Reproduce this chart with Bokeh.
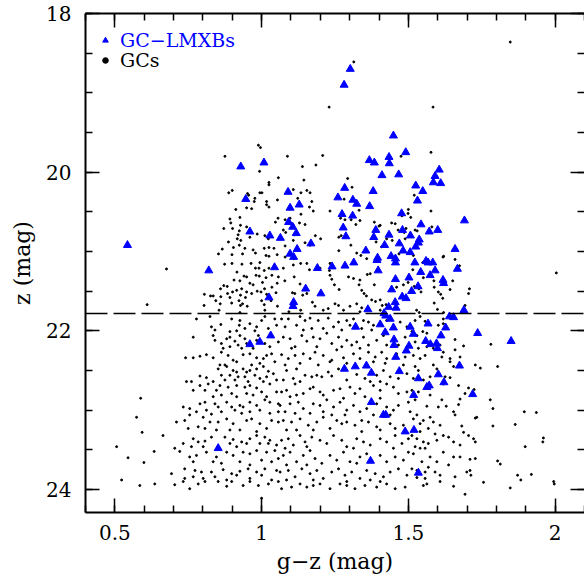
from bokeh.plotting import figure
from bokeh.models import Range1d, FixedTicker, LinearAxis, Span, Legend, LegendItem
from bokeh.embed import file_html
from bokeh.resources import INLINE

# ---------------- data ----------------
gc_x = [
 0.778,0.824,0.861,0.898,0.926,0.924,0.96,0.983,1.0,1.011,1.045,1.051,1.023,0.829,0.841,0.892,0.943,0.977,0.915,
 0.767,0.835,0.841,0.881,0.863,0.892,0.909,0.926,0.943,0.949,0.932,0.892,0.869,0.983,0.989,1.011,1.028,1.057,0.971,0.92,
 0.741,0.767,0.79,0.812,0.835,0.863,0.886,0.915,0.903,0.937,0.96,0.983,1.006,1.017,1.034,0.858,0.875,0.966,0.994,1.045,
 0.852,0.881,0.915,0.903,0.937,0.949,0.96,0.983,1.006,1.023,0.863,0.892,0.92,0.943,0.977,0.994,1.017,1.04,0.79,0.812,0.835,0.875,0.909,0.954,1.006,1.051,
 0.744,0.761,0.79,0.818,0.858,0.886,0.915,0.943,0.96,0.983,1.028,0.767,0.807,0.846,0.863,0.898,0.915,0.949,0.971,1.0,1.017,1.051,0.835,
 0.79,0.807,0.841,0.852,0.881,0.898,0.926,0.937,0.96,0.983,1.011,1.028,1.057,0.733,0.755,0.778,0.812,0.829,0.863,0.909,0.932,0.96,0.994,1.028,1.057,
 0.71,0.738,0.755,0.784,0.801,0.824,0.852,0.881,0.903,0.926,0.949,0.966,0.994,1.017,1.034,1.057,0.75,0.807,0.846,0.892,0.983,
 0.664,0.733,0.767,0.784,0.807,0.829,0.875,0.903,0.932,0.96,0.983,1.011,1.028,1.051,0.704,0.721,0.761,0.801,0.892,0.915,0.949,0.994,1.023,
 0.634,0.755,0.778,0.812,0.846,0.881,0.903,0.937,0.96,0.983,1.017,1.045,0.767,0.835,0.863,0.926,0.96,1.0,1.034,1.057,
 0.693,0.738,0.773,0.795,0.829,0.869,0.898,0.926,0.954,0.983,1.011,1.051,0.738,0.767,0.801,0.841,0.881,0.915,0.96,1.0,1.034,
 0.636,0.704,0.733,0.755,0.784,0.807,0.852,0.881,0.898,0.937,0.96,0.989,1.023,1.057,1.0,
 1.068,1.091,1.131,1.148,1.165,1.193,1.227,1.262,1.29,1.313,1.347,1.364,1.381,1.08,1.119,1.142,1.171,1.21,1.245,1.273,1.301,1.341,1.375,1.426,1.472,1.495,
 1.074,1.097,1.114,1.137,1.154,1.176,1.199,1.222,1.239,1.262,1.29,1.307,1.324,1.347,1.364,1.392,1.415,1.426,1.466,1.489,1.102,1.188,1.273,1.335,
 1.068,1.091,1.114,1.142,1.165,1.182,1.21,1.233,1.256,1.279,1.313,1.335,1.364,1.387,1.409,1.426,1.46,1.489,1.08,1.131,1.193,1.239,1.29,1.381,1.421,1.483,
 1.085,1.119,1.148,1.171,1.188,1.205,1.227,1.239,1.262,1.324,1.352,1.392,1.415,1.438,1.466,1.495,1.074,1.108,1.131,1.29,1.37,1.404,
 1.068,1.085,1.114,1.119,1.165,1.176,1.199,1.21,1.245,1.267,1.301,1.318,1.335,1.352,1.381,1.404,1.426,1.449,1.466,1.495,1.097,1.142,1.279,1.404,
 1.063,1.097,1.125,1.142,1.176,1.199,1.222,1.245,1.267,1.29,1.313,1.335,1.358,1.392,1.426,1.449,1.466,1.5,1.08,1.114,1.165,1.21,1.239,1.284,1.381,1.438,
 1.074,1.102,1.131,1.159,1.188,1.21,1.233,1.256,1.273,1.29,1.318,1.341,1.364,1.392,1.438,1.455,1.483,1.085,1.119,1.176,1.341,1.404,
 1.068,1.091,1.108,1.131,1.148,1.171,1.199,1.222,1.245,1.273,1.29,1.324,1.347,1.37,1.404,1.426,1.455,1.478,1.5,1.08,1.154,1.313,1.449,
 1.074,1.097,1.119,1.142,1.165,1.182,1.205,1.233,1.256,1.279,1.301,1.335,1.358,1.404,1.426,1.455,1.483,1.5,1.085,1.154,1.324,
 1.063,1.091,1.114,1.137,1.165,1.188,1.21,1.239,1.262,1.284,1.307,1.335,1.358,1.387,1.415,1.438,1.466,1.495,1.085,1.176,1.29,1.404,
 1.068,1.102,1.131,1.154,1.176,1.199,1.233,1.267,1.29,1.318,1.352,1.37,1.392,1.426,1.455,1.489,
 1.523,1.54,1.557,1.619,1.659,1.619,1.602,1.512,1.529,1.549,1.563,1.523,1.534,1.563,1.585,1.608,1.619,1.642,1.659,1.688,
 1.517,1.54,1.557,1.585,1.614,1.642,1.676,1.654,1.728,1.745,1.804,1.781,1.534,1.523,1.574,1.597,1.625,1.642,1.517,1.551,
 1.619,1.671,1.705,1.724,1.693,1.512,1.534,1.574,1.614,1.602,1.629,1.676,1.671,1.779,1.788,1.523,1.563,1.506,1.529,1.551,
 1.574,1.585,1.654,1.659,1.728,1.733,1.517,1.54,1.608,1.682,1.688,1.705,1.722,1.728,1.788,1.864,1.895,1.936,1.54,1.568,
 1.591,1.619,1.637,1.654,1.676,1.512,1.529,1.551,1.568,1.597,1.523,1.54,1.557,1.517,1.574,1.619,1.654,1.676,1.71,1.728,
 1.804,1.813,1.898,1.546,1.597,1.637,1.699,1.71,1.568,1.512,1.529,1.557,1.591,1.557,1.529,1.608,1.659,1.713,1.872,1.883,
 1.919,1.756,1.847,1.551,1.563,1.608,1.654,1.693,1.96,1.958,1.995,1.997,
 0.989,0.996,0.875,0.993,1.025,1.025,1.057,0.888,0.9,0.952,0.956,0.994,1.001,0.977,0.975,1.017,1.054,1.017,1.025,0.949,
 0.966,0.912,0.892,0.895,0.926,0.928,0.871,0.901,0.924,0.949,1.056,1.047,0.92,0.917,0.929,0.96,0.985,1.011,1.023,0.887,
 0.904,0.924,0.943,0.971,1.009,1.025,1.042,0.866,0.853,0.899,0.935,0.979,1.015,1.025,1.053,0.874,0.899,0.916,0.933,0.964,
 0.994,0.979,0.991,1.009,1.025,1.035,1.057,0.676,0.94,0.949,0.981,0.992,1.015,0.906,0.926,0.96,1.003,0.871,0.86,0.883,
 0.901,0.915,0.932,0.949,0.971,0.985,1.01,1.035,1.053,0.805,0.826,0.835,0.861,0.884,0.892,0.928,0.945,0.966,0.998,1.017,
 1.049,0.804,0.844,0.859,0.898,0.923,0.928,0.935,0.951,1.0,1.009,1.032,1.054,0.855,0.926,1.011,
 1.088,1.208,1.139,1.185,1.144,1.293,1.108,1.134,1.154,1.165,1.123,1.171,1.163,1.176,1.233,1.281,1.08,1.097,1.134,1.129,
 1.108,1.074,1.082,1.111,1.108,1.08,1.148,1.165,1.201,1.183,1.148,1.269,1.284,1.305,1.321,1.335,1.332,1.384,1.4,1.404,
 1.443,1.455,1.465,1.492,1.5,1.499,1.478,1.426,1.445,1.489,1.486,1.263,1.271,1.263,1.304,1.338,1.324,1.358,1.39,1.409,
 1.468,1.08,1.11,1.108,1.133,1.154,1.163,1.199,1.074,1.079,1.111,1.131,1.105,1.113,1.14,1.154,1.173,1.182,1.233,1.231,
 1.233,1.239,1.248,1.264,1.296,1.313,1.335,1.332,1.36,1.37,1.384,1.341,1.349,1.357,1.375,1.388,1.404,1.424,1.411,1.324,
 1.341,1.301,1.25,1.262,1.279,1.21,1.227,1.133,1.093,1.335,1.404,1.46,1.483,1.499,1.308,
 1.577,1.577,1.52,1.508,1.58,1.523,1.53,1.62,1.618,1.659,1.674,1.651,1.642,1.708,1.705,1.693,1.587,
 1.588,1.602,1.61,1.617,1.588,1.599,1.62,1.551,1.543,1.536,1.52,1.515,1.517,1.549,1.528,1.537,
 1.314,1.23,1.584,1.475,1.847,2.004,0.61,0.588,0.574,0.593,0.506,0.545,0.599,0.523,0.585,
]
gc_z = [
 21.85,21.82,21.92,21.85,21.87,21.93,21.91,21.95,21.87,21.82,21.85,21.93,21.97,21.95,21.99,22.01,21.97,22.00,22.00,
 22.08,22.06,22.12,22.10,22.16,22.08,22.13,22.06,22.10,22.16,22.22,22.20,22.22,22.12,22.06,22.16,22.20,22.14,22.22,22.18,
 22.34,22.34,22.32,22.30,22.34,22.27,22.31,22.39,22.37,22.30,22.29,22.34,22.35,22.31,22.29,22.43,22.43,22.43,22.41,22.39,
 22.48,22.45,22.52,22.50,22.48,22.52,22.50,22.48,22.45,22.51,22.56,22.56,22.58,22.58,22.56,22.60,22.58,22.54,22.57,22.59,22.64,22.62,22.62,22.64,22.64,22.62,
 22.64,22.64,22.69,22.67,22.69,22.71,22.69,22.71,22.69,22.72,22.67,22.75,22.75,22.75,22.81,22.79,22.83,22.79,22.81,22.77,22.83,22.77,22.83,
 22.92,22.90,22.92,22.96,22.90,22.96,22.94,22.96,22.90,22.94,22.87,22.90,22.92,22.96,22.98,23.02,23.00,23.05,23.02,23.00,23.04,23.02,23.00,23.04,23.02,
 23.15,23.13,23.06,23.21,23.09,23.15,23.15,23.11,23.17,23.25,23.13,23.11,23.17,23.23,23.13,23.15,23.23,23.23,23.25,23.25,23.27,
 23.32,23.42,23.36,23.40,23.39,23.34,23.34,23.37,23.40,23.36,23.32,23.34,23.38,23.44,23.48,23.52,23.46,23.46,23.42,23.46,23.42,23.42,23.42,
 23.52,23.59,23.57,23.53,23.59,23.53,23.57,23.53,23.55,23.51,23.53,23.51,23.65,23.65,23.67,23.65,23.69,23.63,23.65,23.61,
 23.80,23.74,23.76,23.78,23.78,23.75,23.80,23.77,23.74,23.78,23.74,23.76,23.86,23.84,23.86,23.84,23.88,23.82,23.86,23.82,23.88,
 23.93,23.94,23.90,23.99,23.93,23.90,23.90,23.96,23.90,23.95,23.90,23.95,23.93,23.90,24.11,
 21.85,21.85,21.82,21.87,21.84,21.87,21.84,21.89,21.87,21.85,21.87,21.89,21.93,21.95,21.93,21.99,21.97,21.97,21.95,21.99,21.93,21.97,21.99,21.87,21.89,21.95,
 22.08,22.10,22.20,22.06,22.13,22.08,22.10,22.03,22.16,22.08,22.12,22.18,22.14,22.08,22.18,22.12,22.06,22.18,22.18,22.08,22.22,22.20,22.20,22.22,
 22.30,22.35,22.31,22.29,22.35,22.27,22.31,22.39,22.24,22.34,22.29,22.35,22.27,22.33,22.27,22.35,22.29,22.33,22.43,22.41,22.43,22.37,22.41,22.39,22.41,22.43,
 22.50,22.48,22.56,22.58,22.56,22.58,22.52,22.57,22.48,22.55,22.60,22.56,22.50,22.58,22.60,22.54,22.62,22.60,22.64,22.62,22.64,22.64,
 22.77,22.75,22.67,22.81,22.73,22.71,22.77,22.81,22.75,22.73,22.71,22.79,22.73,22.83,22.69,22.75,22.67,22.71,22.79,22.77,22.83,22.79,22.85,22.85,
 22.94,22.92,22.90,22.98,22.92,22.94,22.87,22.96,22.90,23.00,22.94,23.02,22.98,22.92,22.96,23.00,22.94,22.90,23.02,23.04,23.04,23.02,23.06,23.06,23.06,23.06,
 23.13,23.15,23.11,23.19,23.15,23.09,23.23,23.13,23.17,23.15,23.19,23.13,23.15,23.21,23.17,23.23,23.19,23.25,23.25,23.25,23.27,23.25,
 23.38,23.36,23.44,23.32,23.40,23.34,23.38,23.42,23.32,23.38,23.46,23.36,23.40,23.44,23.36,23.40,23.32,23.42,23.36,23.48,23.46,23.48,23.48,
 23.57,23.53,23.65,23.57,23.51,23.61,23.67,23.57,23.63,23.53,23.65,23.59,23.55,23.57,23.65,23.59,23.63,23.53,23.69,23.69,23.67,
 23.78,23.76,23.84,23.74,23.80,23.76,23.86,23.78,23.74,23.82,23.78,23.86,23.76,23.80,23.84,23.78,23.74,23.82,23.88,23.88,23.90,23.90,
 23.99,23.97,23.93,23.97,23.95,23.93,23.99,23.93,23.95,23.99,23.95,23.88,23.97,23.93,23.99,23.97,
 21.87,21.82,21.88,21.85,22.11,21.91,21.93,22.01,22.06,22.01,22.03,22.14,22.22,22.20,22.22,22.18,22.27,22.35,22.24,22.19,
 22.31,22.35,22.31,22.43,22.33,22.39,22.33,22.45,22.43,22.47,22.45,22.17,22.50,22.45,22.58,22.48,22.58,22.59,22.60,22.62,
 22.67,22.69,22.72,22.74,22.79,22.75,22.77,22.81,22.87,22.96,22.95,22.86,22.93,22.87,22.98,22.87,22.95,23.02,23.06,23.13,
 23.09,23.15,23.02,23.06,23.10,23.09,23.11,23.17,23.19,23.20,23.28,23.32,23.36,23.40,23.20,23.18,23.02,23.03,23.27,23.23,
 23.30,23.32,23.34,23.40,23.44,23.32,23.36,23.40,23.42,23.38,23.46,23.48,23.48,23.55,23.59,23.53,23.59,23.59,23.62,23.61,
 23.64,23.68,23.46,23.65,23.65,23.69,23.78,23.76,23.72,23.74,23.76,23.78,23.78,23.86,23.85,23.82,23.84,23.82,23.82,23.88,
 23.81,23.91,23.98,23.95,23.93,23.90,23.96,24.06,23.35,23.40,23.90,23.93,
 19.66,19.69,19.80,19.99,20.13,20.16,20.07,20.26,20.23,20.27,20.29,20.26,20.26,20.33,20.37,20.37,20.35,20.41,20.44,20.45,
 20.46,20.47,20.59,20.64,20.57,20.67,20.71,20.71,20.74,20.69,20.58,20.63,20.79,20.84,20.86,20.82,20.78,20.80,20.84,20.88,
 20.95,20.92,20.96,20.98,20.96,20.95,20.96,20.97,21.03,21.04,21.03,21.02,21.05,21.06,21.04,21.16,21.15,21.26,21.16,21.15,
 21.14,21.21,21.21,21.24,21.21,21.30,21.32,21.22,21.31,21.32,21.30,21.31,21.33,21.36,21.37,21.40,21.39,21.43,21.47,21.44,
 21.51,21.49,21.47,21.51,21.42,21.50,21.47,21.45,21.40,21.54,21.56,21.56,21.57,21.53,21.58,21.55,21.58,21.53,21.51,21.54,
 21.52,21.68,21.62,21.66,21.65,21.62,21.68,21.66,21.69,21.62,21.67,21.62,21.69,21.74,21.77,21.74,
 19.80,19.79,19.93,19.91,20.10,20.08,20.22,20.26,20.23,20.26,20.33,20.37,20.44,20.49,20.49,20.34,20.60,20.58,20.53,20.64,
 20.67,20.73,20.76,20.79,20.86,20.93,20.89,20.92,20.84,20.80,20.66,20.58,20.60,20.60,20.66,20.61,20.48,20.63,20.68,20.67,
 20.64,20.65,20.73,20.71,20.47,20.52,20.55,20.84,20.86,20.84,20.76,20.82,20.80,20.99,20.92,21.05,21.02,21.09,20.88,20.94,
 21.03,21.07,21.09,21.17,21.15,21.15,21.23,21.21,21.21,21.37,21.32,21.41,21.52,21.53,21.55,21.53,21.64,21.69,21.15,21.24,
 21.30,21.35,21.42,21.48,21.32,21.34,21.36,21.42,21.29,21.28,21.42,21.49,21.53,21.56,21.61,21.63,21.61,21.67,21.68,21.66,
 21.71,21.69,21.66,21.68,21.74,21.74,21.72,21.74,21.76,21.76,21.74,21.45,21.42,21.39,20.19,
 19.75,20.49,20.29,20.57,20.69,20.73,20.74,21.06,21.07,21.10,21.18,21.37,21.48,21.47,21.53,21.68,21.37,
 21.45,21.51,21.54,21.59,21.65,21.73,21.77,21.33,21.51,21.47,21.44,21.23,21.05,21.14,21.74,21.77,
 18.61,19.18,19.18,19.80,18.36,21.27,21.67,22.85,23.09,23.28,23.46,23.60,23.66,23.88,23.95,
]
lmxb_x = [
 0.543,0.82,0.929,1.008,0.946,0.96,1.028,1.064,1.044,1.025,0.96,0.994,1.031,0.852,
 1.302,1.281,1.449,1.491,1.367,1.384,1.434,1.435,1.410,1.467,1.605,1.591,1.585,1.610,1.525,1.549,
 1.531,1.380,1.283,1.260,1.311,1.324,1.368,1.090,1.128,1.097,1.274,1.310,1.477,1.691,1.278,1.287,
 1.092,1.106,1.118,1.543,1.389,1.480,1.434,1.382,1.571,1.600,1.507,1.537,1.534,1.525,1.659,1.469,
 1.419,1.355,1.482,1.506,1.395,1.441,1.456,1.456,1.393,1.560,1.522,1.583,1.567,1.168,1.121,1.097,
 1.109,1.667,1.314,1.284,1.240,1.190,1.397,1.542,1.591,1.574,1.456,1.502,1.618,1.620,1.150,1.202,
 1.443,1.533,1.511,1.479,1.492,1.109,1.107,1.455,1.433,1.458,1.362,1.417,1.423,1.438,1.689,1.640,
 1.654,1.404,1.320,1.506,1.567,1.449,1.627,1.736,1.517,1.421,1.611,1.451,1.559,1.575,1.596,1.599,
 1.502,1.451,1.493,1.457,1.674,1.282,1.319,1.357,1.374,1.469,1.534,1.602,1.621,1.571,1.563,1.518,
 1.719,1.374,1.415,1.423,1.489,1.519,1.371,1.534,1.850,
]
lmxb_z = [
 20.92,21.24,19.93,19.88,20.34,20.75,20.80,20.83,21.20,21.58,22.17,22.14,22.06,23.48,
 18.70,18.90,19.54,19.75,19.85,19.88,19.81,19.89,20.04,20.03,19.97,20.05,20.13,20.14,20.17,20.24,
 20.36,20.24,20.20,20.32,20.35,20.40,20.43,20.25,20.41,20.45,20.53,20.55,20.52,20.61,20.70,20.81,
 20.63,20.69,20.77,20.66,20.73,20.73,20.79,20.82,20.75,20.73,20.80,20.85,20.89,20.94,20.97,20.90,
 20.92,20.99,20.99,21.01,21.08,21.06,21.09,21.14,21.11,21.12,21.14,21.14,21.14,20.90,20.97,21.03,
 21.07,21.22,21.14,21.18,21.19,21.21,21.24,21.26,21.24,21.30,21.35,21.33,21.36,21.40,21.47,21.53,
 21.48,21.44,21.50,21.57,21.59,21.64,21.69,21.64,21.70,21.71,21.73,21.78,21.81,21.85,21.74,21.82,
 21.83,21.92,21.95,21.95,21.91,21.96,21.96,22.03,22.04,22.02,22.06,22.11,22.13,22.17,22.16,22.22,
 22.19,22.18,22.25,22.33,22.44,22.48,22.45,22.44,22.53,22.51,22.60,22.55,22.65,22.69,22.71,22.81,
 22.80,22.90,23.06,23.06,23.27,23.25,23.64,23.79,22.13,
]

x_major = [0.5, 1.0, 1.5, 2.0]
x_tick_labels = ["0.5", "1", "1.5", "2"]
x_minor = [0.4,0.5,0.6,0.7,0.8,0.9,1.0,1.1,1.2,1.3,1.4,1.5,1.6,1.7,1.8,1.9,2.0,2.1]
y_major = [18, 20, 22, 24]
y_tick_labels = ["18", "20", "22", "24"]
y_minor = [18.0,18.5,19.0,19.5,20.0,20.5,21.0,21.5,22.0,22.5,23.0,23.5,24.0]
z_limit = 21.78

FONT = "DejaVu Serif"

p = figure(width=584, height=578, x_range=Range1d(0.4, 2.1), y_range=Range1d(24.29, 18.0),
           output_backend="svg", toolbar_location=None,
           x_axis_location=None, y_axis_location=None,
           min_border_left=85, min_border_right=0, min_border_top=13, min_border_bottom=66)
p.xgrid.visible = False
p.ygrid.visible = False
p.outline_line_color = None
p.background_fill_color = "white"
p.border_fill_color = "white"

xt = FixedTicker(ticks=x_major, minor_ticks=x_minor)
yt = FixedTicker(ticks=y_major, minor_ticks=y_minor)

def style(ax, show_line=True):
    ax.major_tick_in = 14
    ax.major_tick_out = 0
    ax.minor_tick_in = 7
    ax.minor_tick_out = 0
    ax.major_tick_line_width = 1.5
    ax.minor_tick_line_width = 1.5
    ax.major_tick_line_color = "black"
    ax.minor_tick_line_color = "black"
    ax.axis_line_width = 2
    ax.axis_line_color = "black" if show_line else None
    ax.major_label_text_font = FONT
    ax.major_label_text_font_size = "20px"
    ax.major_label_text_color = "black"
    ax.axis_label_text_font = FONT
    ax.axis_label_text_font_style = "normal"
    ax.axis_label_text_color = "black"

def hide_labels(ax, ticks):
    ax.major_label_overrides = {t: "" for t in ticks}
    ax.major_label_text_color = None
    ax.major_label_text_font_size = "1px"
    ax.major_label_standoff = 0

left = LinearAxis(ticker=yt, axis_label="z (mag)")
style(left)
left.major_label_overrides = dict(zip(y_major, y_tick_labels))
left.major_label_standoff = 14
left.axis_label_text_font_size = "22px"
left.axis_label_standoff = 8
p.add_layout(left, "left")

bottom = LinearAxis(ticker=xt, axis_label="g\u2212z (mag)")
style(bottom)
bottom.major_label_overrides = dict(zip(x_major, x_tick_labels))
bottom.major_label_standoff = 12
bottom.axis_label_text_font_size = "22px"
bottom.axis_label_standoff = 6
p.add_layout(bottom, "below")

top = LinearAxis(ticker=xt)
style(top)
hide_labels(top, x_major)
p.add_layout(top, "above")

right = LinearAxis(ticker=yt)
style(right, show_line=False)
hide_labels(right, y_major)
p.add_layout(right, "right")

p.add_layout(Span(location=z_limit, dimension="width", line_color="black",
                  line_width=1.5, line_dash="22 6"))

r_gc = p.scatter(gc_x, gc_z, marker="circle", size=2.0, color="black")
r_lx = p.scatter(lmxb_x, lmxb_z, marker="triangle", size=8, fill_color="#0000ff", line_color="#0000ff")

def mk_legend(label, rend, color, loc):
    lg = Legend(items=[LegendItem(label=label, renderers=[rend])], location=loc)
    lg.border_line_color = None
    lg.background_fill_alpha = 0
    lg.padding = 0
    lg.margin = 0
    lg.spacing = 0
    lg.glyph_width = 14
    lg.glyph_height = 18
    lg.label_height = 18
    lg.label_standoff = 8
    lg.label_text_font = FONT
    lg.label_text_font_size = "19px"
    lg.label_text_color = color
    return lg

p.add_layout(mk_legend("GC\u2212LMXBs", r_lx, "#0000ff", (13, 461)))
p.add_layout(mk_legend("GCs", r_gc, "black", (13, 441)))

open("out.html", "w").write(file_html(p, INLINE))
